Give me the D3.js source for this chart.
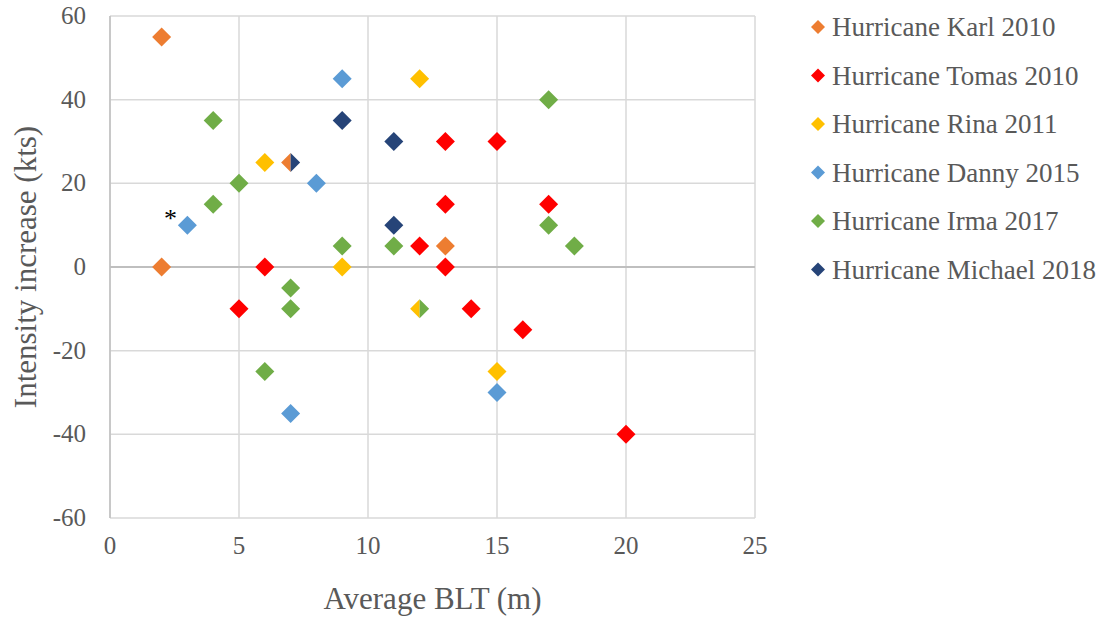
<!DOCTYPE html>
<html>
<head>
<meta charset="utf-8">
<script src="https://cdn.jsdelivr.net/npm/d3@7"></script>
<style>
  body { margin: 0; background: #fff; }
  text { font-family: "Liberation Serif", "Times New Roman", serif; }
</style>
</head>
<body>
<div id="chart"></div>
<script>
const seriesNames = ["Hurricane Karl 2010", "Hurricane Tomas 2010", "Hurricane Rina 2011",
  "Hurricane Danny 2015", "Hurricane Irma 2017", "Hurricane Michael 2018"];
const seriesColors = ["#ED7D31", "#FF0000", "#FFC000", "#5B9BD5", "#70AD47", "#264478"];

// [BLT, intensity increase, half] ; half = "left"/"right" where two storms share a point
const karl = [[2, 55], [2, 0], [13, 5], [7, 25, "left"]];
const tomas = [[5, -10], [6, 0], [12, 5], [13, 30], [15, 30], [13, 15], [13, 0],
  [14, -10], [16, -15], [17, 15], [20, -40]];
const rina = [[6, 25], [12, 45], [9, 0], [12, -10, "left"], [15, -25]];
const danny = [[9, 45], [8, 20], [3, 10], [7, -35], [15, -30]];
const irma = [[4, 35], [5, 20], [4, 15], [9, 5], [11, 5], [7, -5], [7, -10], [6, -25],
  [17, 40], [17, 10], [18, 5], [12, -10, "right"]];
const michael = [[9, 35], [11, 30], [11, 10], [7, 25, "right"]];
const seriesData = [karl, tomas, rina, danny, irma, michael];

const xTicks = [0, 5, 10, 15, 20, 25];
const yTicks = [-60, -40, -20, 0, 20, 40, 60];

const width = 1109, height = 619;
const margin = { left: 110, top: 16, right: 354, bottom: 101 };

const svg = d3.select("#chart").append("svg")
  .attr("width", width)
  .attr("height", height);

const x = d3.scaleLinear().domain([0, 25]).range([margin.left, width - margin.right]);
const y = d3.scaleLinear().domain([-60, 60]).range([height - margin.bottom, margin.top]);

// gridlines
svg.append("g")
  .selectAll("line.vgrid")
  .data(xTicks)
  .enter()
  .append("line")
  .attr("x1", d => x(d)).attr("x2", d => x(d))
  .attr("y1", y(60)).attr("y2", y(-60))
  .attr("stroke", "#d9d9d9")
  .attr("stroke-width", 1.5);

svg.append("g")
  .selectAll("line.hgrid")
  .data(yTicks)
  .enter()
  .append("line")
  .attr("x1", x(0)).attr("x2", x(25))
  .attr("y1", d => y(d)).attr("y2", d => y(d))
  .attr("stroke", d => d === 0 ? "#bfbfbf" : "#d9d9d9")
  .attr("stroke-width", d => d === 0 ? 2 : 1.5);

// y axis line
svg.append("line")
  .attr("x1", x(0)).attr("x2", x(0))
  .attr("y1", y(60)).attr("y2", y(-60))
  .attr("stroke", "#bfbfbf")
  .attr("stroke-width", 1.5);

// tick labels
svg.append("g")
  .selectAll("text")
  .data(yTicks)
  .enter()
  .append("text")
  .attr("x", x(0) - 24)
  .attr("y", d => y(d) + 8)
  .attr("text-anchor", "end")
  .attr("font-size", 25)
  .attr("fill", "#595959")
  .text(d => d);

svg.append("g")
  .selectAll("text")
  .data(xTicks)
  .enter()
  .append("text")
  .attr("x", d => x(d))
  .attr("y", y(-60) + 36)
  .attr("text-anchor", "middle")
  .attr("font-size", 25)
  .attr("fill", "#595959")
  .text(d => d);

// axis titles
svg.append("text")
  .attr("x", (x(0) + x(25)) / 2)
  .attr("y", 609)
  .attr("text-anchor", "middle")
  .attr("font-size", 31)
  .attr("fill", "#595959")
  .text("Average BLT (m)");

svg.append("text")
  .attr("transform", `translate(36, ${(y(60) + y(-60)) / 2}) rotate(-90)`)
  .attr("text-anchor", "middle")
  .attr("font-size", 31)
  .attr("fill", "#595959")
  .text("Intensity increase (kts)");

// markers
const r = 9.5;
function diamond(half) {
  if (half === "left") return `M0,${-r}L${-r},0L0,${r}Z`;
  if (half === "right") return `M0,${-r}L${r},0L0,${r}Z`;
  return `M0,${-r}L${r},0L0,${r}L${-r},0Z`;
}

seriesData.forEach((pts, i) => {
  svg.append("g")
    .selectAll("path")
    .data(pts)
    .enter()
    .append("path")
    .attr("transform", d => `translate(${x(d[0])},${y(d[1])})`)
    .attr("d", d => diamond(d[2]))
    .attr("fill", seriesColors[i]);
});

// asterisk next to Danny point
svg.append("text")
  .attr("x", x(danny[2][0]) - 17)
  .attr("y", y(danny[2][1]) + 2)
  .attr("text-anchor", "middle")
  .attr("font-size", 26)
  .attr("fill", "#000")
  .text("*");

// legend
const legend = svg.append("g").attr("transform", "translate(818, 27)");
seriesNames.forEach((name, i) => {
  const ly = i * 48.5;
  legend.append("path")
    .attr("transform", `translate(0,${ly})`)
    .attr("d", "M0,-7L7,0L0,7L-7,0Z")
    .attr("fill", seriesColors[i]);
  legend.append("text")
    .attr("x", 14)
    .attr("y", ly + 9)
    .attr("font-size", 27)
    .attr("fill", "#595959")
    .text(name);
});
</script>
</body>
</html>
